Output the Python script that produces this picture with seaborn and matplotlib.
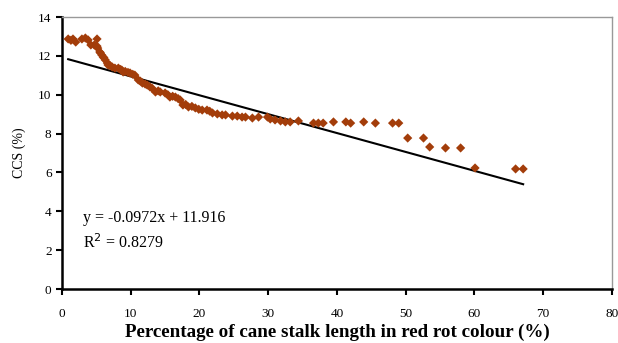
import numpy as np
import pandas as pd
import matplotlib
matplotlib.use("Agg")
import matplotlib.pyplot as plt
import seaborn as sns

# percentage of cane stalk length in red rot colour (%)
pct_red_rot = [0.9, 1.3, 1.6, 2.0, 2.9, 3.4, 3.8, 4.2, 4.7, 5.1, 5.1, 5.2,
               5.5, 5.6, 5.8, 6.0, 6.1, 6.3, 6.6, 6.7, 7.0, 7.3, 7.7, 8.2,
               8.5, 8.7, 8.9, 9.2, 9.6, 9.9, 10.3, 10.6, 11.1, 11.4, 11.7,
               12.1, 12.4, 12.8, 13.1, 13.6, 14.0, 14.3, 15.0, 15.4, 15.7,
               16.1, 16.5, 16.9, 17.2, 17.6, 18.0, 18.4, 18.9, 19.4, 19.9,
               20.4, 21.1, 21.5, 21.9, 22.6, 23.3, 23.8, 24.8, 25.5, 26.2,
               26.7, 27.7, 28.6, 29.9, 30.3, 31.0, 31.8, 32.5, 33.2, 34.4,
               36.6, 37.3, 38.0, 39.5, 41.3, 42.0, 43.9, 45.6, 48.1, 49.0,
               50.3, 52.6, 53.5, 55.8, 58.0, 60.1, 66.0, 67.1]
# CCS (%)
ccs = [12.87, 12.80, 12.87, 12.71, 12.87, 12.92, 12.82, 12.56, 12.56, 12.87,
       12.50, 12.40, 12.20, 12.15, 12.04, 11.94, 11.90, 11.79, 11.63, 11.53,
       11.50, 11.43, 11.37, 11.37, 11.30, 11.27, 11.17, 11.20, 11.15, 11.12,
       11.05, 11.01, 10.76, 10.70, 10.60, 10.55, 10.50, 10.40, 10.34, 10.14,
       10.20, 10.14, 10.09, 10.00, 9.88, 9.92, 9.88, 9.80, 9.73, 9.47,
       9.50, 9.37, 9.40, 9.32, 9.25, 9.21, 9.21, 9.15, 9.06, 9.01,
       8.96, 8.96, 8.90, 8.90, 8.85, 8.85, 8.80, 8.85, 8.85, 8.75,
       8.70, 8.65, 8.60, 8.60, 8.65, 8.54, 8.54, 8.54, 8.60, 8.60,
       8.54, 8.60, 8.54, 8.54, 8.54, 7.77, 7.77, 7.31, 7.26, 7.26,
       6.23, 6.18, 6.18]

# linear trendline reported on the chart
slope = -0.0972
intercept = 11.916
r_squared = 0.8279

plt.rcParams['font.family'] = ['Liberation Serif', 'DejaVu Serif']

df = pd.DataFrame({'pct': pct_red_rot, 'ccs': ccs})
fit_x = np.array([min(pct_red_rot), max(pct_red_rot)])
fit_df = pd.DataFrame({'pct': fit_x, 'ccs': slope * fit_x + intercept})

fig = plt.figure(figsize=(6.18, 3.43), dpi=100)
ax = fig.add_axes([0.1003, 0.1574, 0.8897, 0.793])

sns.lineplot(data=fit_df, x='pct', y='ccs', ax=ax, color='black', linewidth=1.5)
sns.scatterplot(data=df, x='pct', y='ccs', ax=ax, color='#A33D0A', marker='D',
                s=22, edgecolor='none', zorder=3)

ax.set_xlim(0, 80)
ax.set_ylim(0, 14)
ax.set_xticks(range(0, 81, 10))
ax.set_yticks(range(0, 15, 2))
ax.tick_params(labelsize=9.5, direction='out', length=4, width=1.5, color='black')
ax.tick_params(axis='x', pad=10)

ax.set_xlabel('Percentage of cane stalk length in red rot colour (%)',
              fontsize=13.7, fontweight='bold', labelpad=2)
ax.set_ylabel('CCS (%)', fontsize=10, labelpad=9)

for side in ['left', 'bottom']:
    ax.spines[side].set_color('black')
    ax.spines[side].set_linewidth(1.8)
for side in ['top', 'right']:
    ax.spines[side].set_color('#999999')
    ax.spines[side].set_linewidth(1.0)

ax.text(3, 3.65, f'y = {slope}x + {intercept}', fontsize=11.5, va='center')
ax.text(3, 2.37, f'R$^2$ = {r_squared}', fontsize=11.5, va='center')

fig.savefig('out.png', dpi=100)
